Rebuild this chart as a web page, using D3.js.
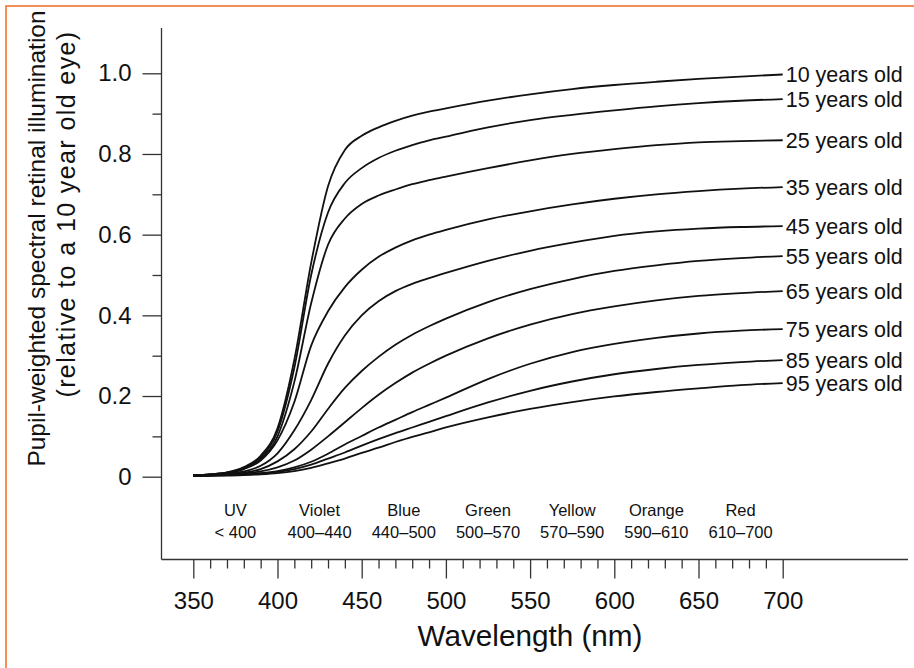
<!DOCTYPE html>
<html><head><meta charset="utf-8">
<script src="https://cdn.jsdelivr.net/npm/d3@7"></script>
<style>
body{margin:0;background:#fff}
svg{display:block}
text{font-family:"Liberation Sans",Arial,sans-serif;fill:#111}
</style>
</head><body><svg id="c" width="914" height="668"></svg>
<script>
// ---- data ----
const wavelengths = [350,360,370,380,390,400,410,420,430,440,450,460,470,480,490,500,525,550,575,600,625,650,675,700];
const age10 = [.004,.006,.011,.024,.052,.12,.29,.53,.72,.81,.845,.866,.882,.895,.905,.913,.932,.948,.961,.971,.979,.986,.992,.997];
const age15 = [.004,.006,.010,.022,.048,.112,.27,.50,.655,.728,.765,.79,.808,.822,.834,.843,.866,.884,.897,.908,.918,.926,.932,.936];
const age25 = [.004,.006,.010,.020,.044,.10,.235,.43,.575,.64,.676,.697,.712,.725,.735,.744,.765,.784,.80,.812,.822,.829,.832,.834];
const age35 = [.003,.005,.009,.019,.040,.09,.185,.325,.41,.47,.513,.545,.568,.586,.60,.612,.638,.658,.675,.689,.70,.708,.714,.718];
const age45 = [.003,.004,.007,.013,.027,.058,.115,.19,.28,.35,.40,.435,.46,.478,.492,.505,.535,.56,.58,.597,.608,.615,.619,.621];
const age55 = [.003,.004,.006,.010,.019,.038,.068,.112,.168,.22,.262,.297,.327,.352,.373,.392,.433,.465,.49,.51,.524,.535,.542,.547];
const age65 = [.002,.003,.005,.008,.013,.023,.04,.067,.10,.135,.17,.203,.232,.258,.28,.30,.343,.377,.403,.422,.437,.448,.455,.46];
const age75 = [.002,.003,.004,.006,.009,.014,.023,.037,.057,.08,.101,.122,.141,.16,.178,.196,.242,.28,.309,.329,.344,.355,.362,.366];
const age85 = [.002,.003,.004,.005,.008,.012,.019,.03,.045,.06,.077,.093,.108,.122,.136,.15,.184,.213,.236,.254,.267,.277,.284,.289];
const age95 = [.002,.003,.003,.004,.006,.009,.014,.022,.033,.045,.059,.072,.086,.099,.11,.122,.147,.168,.185,.199,.21,.219,.227,.232];
const seriesLabels = ["10 years old","15 years old","25 years old","35 years old","45 years old","55 years old","65 years old","75 years old","85 years old","95 years old"];
const xMajorTicks = [350,400,450,500,550,600,650,700];
const yMajorTicks = [0,0.2,0.4,0.6,0.8,1.0];
const yMinorTicks = [0.1,0.3,0.5,0.7,0.9];
const bandNames = ["UV","Violet","Blue","Green","Yellow","Orange","Red"];
const bandRanges = ["< 400","400\u2013440","440\u2013500","500\u2013570","570\u2013590","590\u2013610","610\u2013700"];
const bandCenters = [375,425,475,525,575,625,675];

const series = [age10,age15,age25,age35,age45,age55,age65,age75,age85,age95];

// ---- chart ----
const svg = d3.select("#c");
svg.append("rect").attr("x",6).attr("y",6).attr("width",960).attr("height",700)
  .attr("fill","none").attr("stroke","#f26a21").attr("stroke-width",1.5);

const x = d3.scaleLinear().domain([350,700]).range([193.3,782.7]);
const y = d3.scaleLinear().domain([0,1]).range([476.7,73.3]);
const axisX0 = 161.5, axisY0 = 559.5;

// y axis
const gy = svg.append("g").attr("transform",`translate(${axisX0},0)`);
gy.call(d3.axisLeft(y).tickValues(yMajorTicks).tickSize(19).tickPadding(11)
  .tickFormat(d => d === 0 ? "0" : d.toFixed(1)));
gy.append("g").call(d3.axisLeft(y).tickValues(yMinorTicks).tickSize(9).tickFormat(""));
gy.selectAll(".domain").remove();
gy.selectAll("line").attr("stroke","#333").attr("stroke-width",1.3);
gy.selectAll("text").attr("font-size",24).attr("fill","#111").attr("font-family","Liberation Sans, Arial, sans-serif");
svg.append("line").attr("x1",axisX0).attr("x2",axisX0).attr("y1",28).attr("y2",axisY0)
  .attr("stroke","#333").attr("stroke-width",1.3);

// x axis
const xMinor = d3.range(350,701,10).filter(v => v % 50 !== 0);
const gx = svg.append("g").attr("transform",`translate(0,${axisY0})`);
gx.call(d3.axisBottom(x).tickValues(xMajorTicks).tickSize(19).tickPadding(13).tickFormat(d3.format("d")));
gx.append("g").call(d3.axisBottom(x).tickValues(xMinor).tickSize(9).tickFormat(""));
gx.selectAll(".domain").remove();
gx.selectAll("line").attr("stroke","#333").attr("stroke-width",1.3);
gx.selectAll("text").attr("font-size",24).attr("fill","#111").attr("font-family","Liberation Sans, Arial, sans-serif");
svg.append("line").attr("x1",axisX0).attr("x2",908).attr("y1",axisY0).attr("y2",axisY0)
  .attr("stroke","#333").attr("stroke-width",1.3);

// band labels
const bands = svg.append("g");
bandNames.forEach((n,i) => {
  bands.append("text").attr("x",x(bandCenters[i])).attr("y",516).attr("text-anchor","middle")
    .attr("font-size",16.5).text(n);
  bands.append("text").attr("x",x(bandCenters[i])).attr("y",537.5).attr("text-anchor","middle")
    .attr("font-size",16.5).text(bandRanges[i]);
});

// curves
const line = d3.line().x((d,i) => x(wavelengths[i])).y(d => y(d)).curve(d3.curveMonotoneX);
svg.append("g").selectAll("path").data(series).join("path")
  .attr("d", d => line(d)).attr("fill","none").attr("stroke","#111").attr("stroke-width",1.8);

// series labels
svg.append("g").selectAll("text").data(series).join("text")
  .attr("x", x(700) + 3).attr("y", d => y(d[d.length-1]))
  .attr("dy","0.35em").attr("font-size",21.5).text((d,i) => seriesLabels[i]);

// axis titles
svg.append("text").attr("x",530).attr("y",646).attr("text-anchor","middle")
  .attr("font-size",30).attr("textLength",225).attr("lengthAdjust","spacingAndGlyphs").text("Wavelength (nm)");
svg.append("text").attr("transform","translate(45,238.5) rotate(-90)").attr("text-anchor","middle")
  .attr("font-size",24.5).text("Pupil-weighted spectral retinal illumination");
svg.append("text").attr("transform","translate(75,214) rotate(-90)").attr("text-anchor","middle")
  .attr("font-size",25).attr("letter-spacing",1.4)
  .text("(relative to a 10 year old eye)");
</script>
</body></html>
